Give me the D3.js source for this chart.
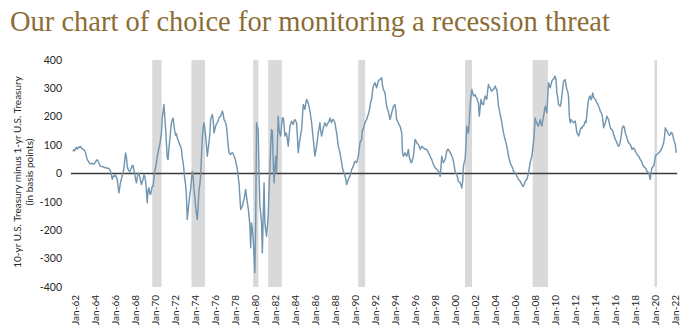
<!DOCTYPE html>
<html><head><meta charset="utf-8">
<script src="https://cdn.jsdelivr.net/npm/d3@7"></script>
<style>body{margin:0;background:#fff;overflow:hidden}</style>
</head><body><svg id="c" width="700" height="334"></svg>
<script>
const chartTitle = "Our chart of choice for monitoring a recession threat";
const yTitleLines = ["10-yr U.S. Treasury minus 1-yr U.S. Treasury", "(in basis points)"];
const yTickValues = [400, 300, 200, 100, 0, -100, -200, -300, -400];
const xTickYears = [1962,1964,1966,1968,1970,1972,1974,1976,1978,1980,1982,1984,1986,1988,1990,1992,1994,1996,1998,2000,2002,2004,2006,2008,2010,2012,2014,2016,2018,2020,2022];
const seriesStart = [1962, 0]; // monthly series begins Jan 1962

// 10-yr minus 1-yr Treasury spread, basis points, monthly
const spread1960s = [
  78, 84, 80, 88, 92, 86, 90, 94, 92, 95, 90, 88,
  86, 84, 80, 74, 62, 50, 45, 40, 36, 34, 35, 36,
  35, 33, 36, 40, 46, 48, 44, 38, 30, 26, 25, 24,
  24, 22, 20, 22, 20, 18, 19, 17, 14, 8, -5, -20,
  -12, -8, -10, -5, -12, -20, -45, -68, -50, -30, -20, -8,
  2, 20, 45, 72, 60, 28, 15, 10, 6, 12, 20, 28,
  28, 12, 0, -20, -33, -15, 2, 0, -10, -25, -39, -30,
  -20, -5, -10, -25, -60, -103, -60, -50, -70, -74, -60, -45
];
const spread1970s = [
  -45, -20, 8, 20, 38, 60, 73, 90, 102, 120, 143, 196,
  220, 243, 200, 161, 110, 55, 49, 85, 120, 150, 179, 190,
  195, 170, 150, 135, 140, 125, 118, 110, 100, 95, 85, 55,
  38, 10, -21, -39, -80, -162, -130, -103, -75, -56, -20, 8,
  -10, -56, -80, -115, -140, -162, -120, -60, -40, -9, 60, 126,
  160, 179, 160, 132, 100, 61, 85, 108, 140, 190, 200, 208,
  190, 143, 155, 167, 175, 179, 185, 196, 200, 202, 210, 220,
  210, 190, 185, 179, 165, 132, 100, 73, 70, 67, 72, 73,
  70, 61, 55, 43, 30, 14, -10, -33, -80, -127, -120, -115,
  -100, -92, -75, -56, -80, -103, -120, -150, -180, -262, -174, -197
];
const spread1980s = [
  -230, -290, -350, -174, 179, 165, 155, 2, -115, -140, -174, -280,
  -150, -33, -174, -200, -221, -186, -150, -60, 14, 100, 155, 149,
  38, -33, 20, 61, 2, 100, 202, 155, 140, 132, 170, 196,
  196, 170, 132, 143, 140, 120, 96, 130, 167, 175, 184, 178,
  173, 185, 190, 185, 179, 130, 73, 100, 120, 140, 155, 200,
  243, 235, 226, 245, 261, 255, 249, 235, 220, 200, 179, 150,
  120, 90, 61, 80, 96, 120, 143, 160, 179, 150, 132, 145,
  161, 170, 179, 170, 167, 175, 179, 185, 196, 185, 179, 190,
  190, 185, 179, 160, 143, 120, 96, 85, 73, 55, 38, 20,
  8, 0, -9, -20, -39, -30, -21, -15, -9, 0, 14, 20
];
const spread1990s = [
  26, 35, 43, 40, 38, 50, 61, 85, 108, 115, 120, 155,
  155, 170, 179, 185, 190, 200, 208, 220, 237, 255, 261, 290,
  308, 315, 320, 310, 302, 315, 326, 330, 331, 335, 337, 310,
  296, 290, 284, 260, 237, 225, 220, 205, 190, 200, 214, 225,
  237, 240, 243, 220, 190, 185, 179, 170, 167, 155, 143, 73,
  61, 65, 73, 68, 61, 70, 85, 60, 49, 40, 38, 50,
  61, 90, 120, 115, 108, 105, 102, 95, 85, 90, 96, 93,
  90, 88, 85, 86, 85, 80, 73, 68, 61, 55, 49, 40,
  32, 26, 20, 18, 14, 12, 8, 4, -10, 20, 61, 45,
  38, 45, 49, 60, 79, 85, 85, 80, 73, 70, 61, 55
];
const spread2000s = [
  43, 25, 8, 0, -4, -15, -27, -30, -33, -40, -51, -30,
  26, 40, 49, 100, 167, 155, 143, 179, 237, 270, 296, 285,
  273, 275, 278, 270, 267, 255, 249, 202, 230, 261, 250, 243,
  243, 260, 273, 265, 261, 290, 314, 305, 302, 295, 290, 296,
  296, 300, 308, 300, 296, 270, 237, 225, 208, 195, 179, 160,
  143, 130, 120, 108, 96, 80, 61, 50, 38, 30, 26, 18,
  8, 5, 2, -3, -9, -15, -21, -24, -27, -33, -39, -45,
  -45, -36, -27, -24, -21, -10, 2, 20, 38, 50, 61, 85,
  108, 150, 196, 185, 179, 170, 167, 180, 190, 175, 167, 185,
  202, 220, 237, 225, 214, 270, 320, 310, 302, 315, 326, 331
];
const spread2010s = [
  331, 340, 343, 330, 284, 270, 243, 240, 237, 250, 273, 300,
  326, 328, 331, 310, 296, 290, 270, 200, 179, 190, 185, 182,
  179, 182, 185, 165, 143, 140, 132, 140, 155, 161, 160, 167,
  167, 175, 184, 180, 208, 240, 261, 270, 273, 260, 270, 284,
  267, 265, 261, 255, 249, 245, 237, 230, 220, 215, 208, 190,
  161, 170, 179, 190, 202, 195, 190, 175, 161, 158, 155, 150,
  137, 130, 120, 115, 108, 100, 96, 100, 114, 130, 155, 165,
  167, 160, 143, 135, 126, 115, 108, 105, 102, 95, 85, 88,
  90, 85, 79, 73, 67, 64, 61, 55, 49, 45, 38, 30,
  26, 22, 20, 15, 8, 5, 2, -10, -21, 5, 20, 24
];
const spread2020s = [
  26, 40, 61, 65, 67, 70, 73, 76, 79, 85, 90, 100,
  108, 130, 161, 155, 149, 145, 137, 135, 137, 145, 143, 135,
  120, 110, 102, 73
];
// NBER recessions: [start year, start month (1-12)] and [end year, end month]
const recessionStarts = [[1969,12],[1973,11],[1980,1],[1981,7],[1990,7],[2001,3],[2007,12],[2020,2]];
const recessionEnds   = [[1970,11],[1975,3],[1980,7],[1982,11],[1991,3],[2001,11],[2009,6],[2020,4]];

const spread = [].concat(spread1960s, spread1970s, spread1980s, spread1990s, spread2000s, spread2010s, spread2020s);
const data = spread.map((v, i) => ({date: new Date(seriesStart[0], seriesStart[1] + i, 1), value: v}));

const svg = d3.select("#c");
const x = d3.scaleTime().domain([new Date(1962, 0, 1), new Date(2022, 4, 1)]).range([73, 677]);
const y = d3.scaleLinear().domain([-400, 400]).range([287, 60]);

// Title
const t = svg.append("text").attr("x", 10).attr("y", 31)
  .attr("font-family", "'Liberation Serif', 'DejaVu Serif', serif")
  .attr("font-size", 27).attr("fill", "#8d6d36").text(chartTitle);
const tw = t.node().getComputedTextLength();
t.attr("font-size", 27 * 600 / tw);

// Recession bands
svg.append("g").selectAll("rect").data(recessionStarts.map((s, i) => [s, recessionEnds[i]])).join("rect")
  .attr("x", d => x(new Date(d[0][0], d[0][1] - 1, 1)))
  .attr("width", d => Math.max(2.5, x(new Date(d[1][0], d[1][1] - 1, 8)) - x(new Date(d[0][0], d[0][1] - 1, 1))))
  .attr("y", y(400)).attr("height", y(-400) - y(400))
  .attr("fill", "#d9d9d9");

// Y tick labels
svg.append("g").selectAll("text").data(yTickValues).join("text")
  .attr("x", 62).attr("y", d => y(d)).attr("dy", "0.35em")
  .attr("text-anchor", "end").attr("font-family", "Lato, 'Open Sans', sans-serif")
  .attr("font-size", 10.5).attr("fill", "#262626").text(d => d);

// X tick labels
svg.append("g").selectAll("text").data(xTickYears).join("text")
  .attr("transform", d => `translate(${x(new Date(d, 0, 1)) + 2},295) rotate(-90)`)
  .attr("dy", "0.35em").attr("text-anchor", "end")
  .attr("font-family", "Lato, 'Open Sans', sans-serif")
  .attr("font-size", 10).attr("fill", "#262626")
  .text(d => "Jan-" + String(d).slice(2));

// Y axis title
const yt = svg.append("text").attr("transform", "translate(21,172) rotate(-90)")
  .attr("text-anchor", "middle").attr("font-family", "Lato, 'Open Sans', sans-serif")
  .attr("font-size", 10).attr("fill", "#262626");
yt.append("tspan").attr("x", 0).attr("dy", 0).text(yTitleLines[0]);
yt.append("tspan").attr("x", 0).attr("dy", 12).text(yTitleLines[1]);

// Zero line
svg.append("line").attr("x1", x(data[0].date) - 2).attr("x2", x(data[data.length - 1].date) + 1)
  .attr("y1", y(0)).attr("y2", y(0)).attr("stroke", "#3a3a3a").attr("stroke-width", 1.5);

// Spread line
svg.append("path").datum(data)
  .attr("d", d3.line().x(d => x(d.date)).y(d => y(d.value)))
  .attr("fill", "none").attr("stroke", "#7396b0").attr("stroke-width", 1.45)
  .attr("stroke-linejoin", "round");
</script></body></html>
